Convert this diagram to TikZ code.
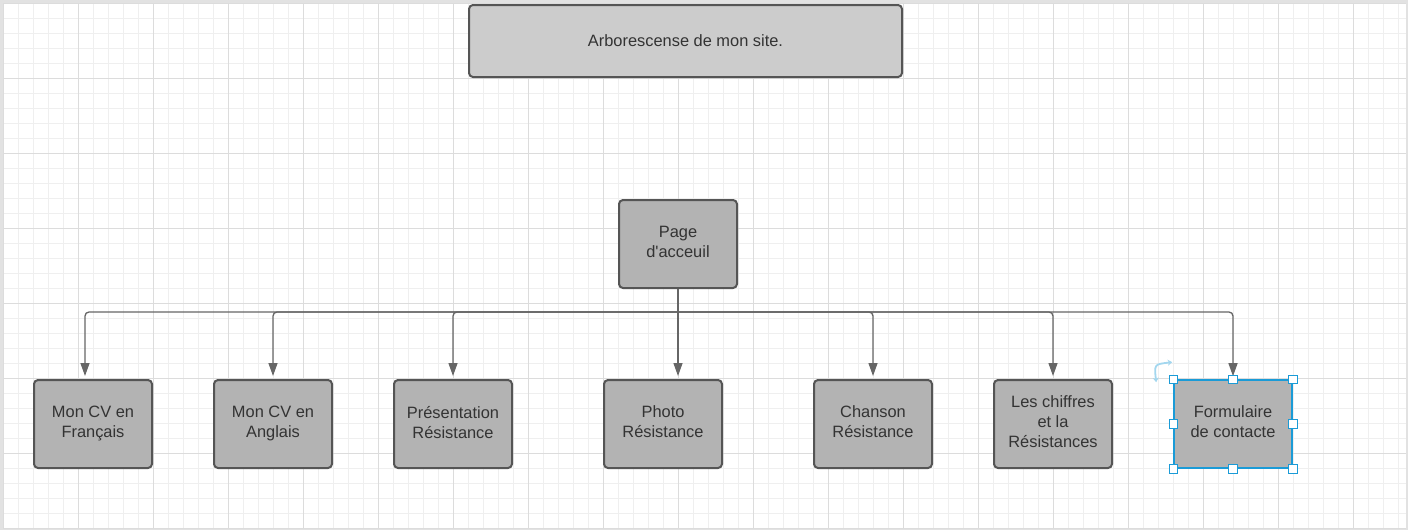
\documentclass[tikz,border=0pt]{standalone}
\usepackage{fontspec}
\setmainfont{Liberation Sans}
\usetikzlibrary{calc,positioning,arrows.meta}
\definecolor{boxgray}{HTML}{B3B3B3}
\definecolor{titlegray}{HTML}{CCCCCC}
\definecolor{edgegray}{HTML}{555555}
\definecolor{linegray}{HTML}{666666}
\definecolor{txtgray}{HTML}{333333}
\definecolor{gridminor}{HTML}{EFEFEF}
\definecolor{gridmajor}{HTML}{DCDCDC}
\definecolor{framegray}{HTML}{E2E2E2}
\definecolor{selblue}{HTML}{1A9BD7}
\tikzset{
pagebox/.style={
  draw=edgegray,
  line width=2pt,
  fill=boxgray,
  rounded corners=4pt,
  minimum width=118pt,
  minimum height=88pt,
  inner sep=0pt,
  text depth=4pt,
  align=center,
  text=txtgray,
  font=\fontsize{16.4}{20}\selectfont
  },
titlebox/.style={
  pagebox,
  text depth=,
  fill=titlegray,
  minimum width=433pt,
  minimum height=72pt
  },
trait/.style={draw=linegray, line width=1.3pt},
lien/.style={
  trait,
  rounded corners=4pt,
  -{Triangle[width=9pt,length=13pt]}
  },
poignee/.style={draw=selblue, fill=white, line width=0.8pt, minimum size=8.5pt, inner sep=0pt}
}

\begin{document}
\begin{tikzpicture}[x=1pt,y=-1pt,>=latex]
    % fond quadrille
    \fill[framegray] (0,0) rectangle (1408,530);
    \fill[white] (3,3) rectangle (1406,528);
    \foreach \x in {3,18,...,1406}
        \draw[gridminor,line width=1pt] (\x,3) -- (\x,528);
    \foreach \y in {3,18,...,528}
        \draw[gridminor,line width=1pt] (3,\y) -- (1406,\y);
    \foreach \x in {3,78,...,1406}
        \draw[gridmajor,line width=1pt] (\x,3) -- (\x,528);
    \foreach \y in {3,78,...,528}
        \draw[gridmajor,line width=1pt] (3,\y) -- (1406,\y);
    \useasboundingbox (0,0) rectangle (1408,530);

    \node[titlebox] (titre) at (685.5,41) {Arborescense de mon site.};
    \node[pagebox] (accueil) at (678,244) {Page\\d\textquotesingle acceuil};

    \node[pagebox] (cvfr) at (93,424) {Mon CV en\\Français};
    \node[pagebox] (cven) at (273,424) {Mon CV en\\Anglais};
    \node[pagebox] (pres) at (453,424) {Présentation\\Résistance};
    \node[pagebox] (photo) at (663,424) {Photo\\Résistance};
    \node[pagebox] (chanson) at (873,424) {Chanson\\Résistance};
    \node[pagebox] (chiffres) at (1053,424) {Les chiffres\\et la\\Résistances};
    \node[pagebox,draw=selblue,line width=1.6pt] (contact) at (1233,424) {Formulaire\\de contacte};

    % liens
    \coordinate (jonction) at (678,312);
    \draw[trait] (accueil.south) -- (jonction);
    \draw[lien] (jonction) -| ([xshift=-8pt,yshift=3pt]cvfr.north);
    \draw[lien] (jonction) -| ([yshift=3pt]cven.north);
    \draw[lien] (jonction) -| ([yshift=3pt]pres.north);
    \draw[lien] (jonction) -- ([xshift=15pt,yshift=3pt]photo.north);
    \draw[lien] (jonction) -| ([yshift=3pt]chanson.north);
    \draw[lien] (jonction) -| ([yshift=3pt]chiffres.north);
    \draw[lien] (jonction) -| ([yshift=3pt]contact.north);

    % selection
    \foreach \a [count=\i] in {north west,north,north east,east,south east,south,south west,west}
        \node[poignee] (p\i) at (contact.\a) {};
    \draw[selblue!40,line width=1.8pt,{Stealth[length=4.5pt,width=6pt]}-{Stealth[length=4.5pt,width=6pt]}]
        ([xshift=-17pt,yshift=-3pt]p1.center) .. controls ([xshift=-19pt,yshift=15pt]p1.center) .. ([xshift=-1pt,yshift=17pt]p1.center);
\end{tikzpicture}
\end{document}
